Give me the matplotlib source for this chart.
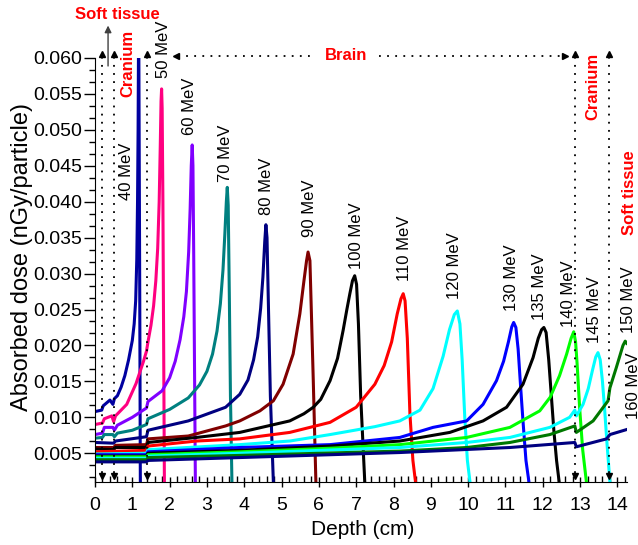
import matplotlib
matplotlib.use('Agg')
import matplotlib.pyplot as plt
from matplotlib.ticker import MultipleLocator, AutoMinorLocator

plt.rcParams['font.family'] = ['Liberation Sans', 'DejaVu Sans']

# depth (cm) / dose (nGy/particle), one curve per energy
depth_40 = [0, 0.18, 0.22, 0.4, 0.48, 0.52, 0.6, 0.7, 0.8, 0.9, 1.0, 1.05, 1.09, 1.12, 1.14, 1.155, 1.165,
            1.175, 1.2, 1.215]
dose_40 = [0.0108, 0.0110, 0.0116, 0.0124, 0.0118, 0.0126, 0.0130, 0.0142, 0.0158, 0.0180, 0.0207, 0.0230,
           0.0262, 0.0320, 0.0400, 0.0500, 0.0605, 0.0605, 0.0260, 0.0010]
depth_50 = [0, 0.2, 0.25, 0.45, 0.5, 0.55, 0.85, 1.1, 1.3, 1.38, 1.42, 1.5, 1.57, 1.63, 1.68, 1.72, 1.75,
            1.77, 1.785, 1.8, 1.82, 1.84, 1.86]
dose_50 = [0.0090, 0.0092, 0.0098, 0.0102, 0.0094, 0.0102, 0.0118, 0.0147, 0.0178, 0.0192, 0.0205, 0.0228,
           0.0255, 0.0290, 0.0335, 0.0400, 0.0480, 0.0540, 0.0557, 0.0530, 0.0400, 0.0200, 0.0010]
depth_60 = [0, 0.2, 0.25, 0.48, 0.52, 0.6, 1.0, 1.38, 1.42, 1.8, 2.0, 2.15, 2.28, 2.38, 2.45, 2.51, 2.55,
            2.58, 2.605, 2.625, 2.645, 2.67, 2.69]
dose_60 = [0.0076, 0.0078, 0.0086, 0.0086, 0.0082, 0.0089, 0.0100, 0.0113, 0.0122, 0.0137, 0.0155, 0.0178,
           0.0208, 0.0240, 0.0275, 0.0330, 0.0390, 0.0450, 0.0479, 0.0450, 0.0330, 0.0150, 0.0010]
depth_70 = [0, 0.2, 0.25, 0.48, 0.52, 0.6, 1.0, 1.38, 1.42, 2.0, 2.5, 2.8, 3.0, 3.15, 3.27, 3.36, 3.43, 3.48,
            3.52, 3.545, 3.57, 3.6, 3.63, 3.67]
dose_70 = [0.0071, 0.0072, 0.0076, 0.0076, 0.0073, 0.0078, 0.0082, 0.0090, 0.0098, 0.0111, 0.0127, 0.0145,
           0.0164, 0.0188, 0.0220, 0.0258, 0.0305, 0.0355, 0.0400, 0.0420, 0.0395, 0.0270, 0.0130, 0.0010]
depth_80 = [0, 0.5, 0.55, 1.38, 1.42, 2.5, 3.5, 3.88, 4.1, 4.25, 4.36, 4.44, 4.5, 4.55, 4.58, 4.61, 4.65,
            4.7, 4.78]
dose_80 = [0.0065, 0.0064, 0.0067, 0.0073, 0.0082, 0.0095, 0.0114, 0.0132, 0.0152, 0.0180, 0.0212, 0.0252,
           0.0295, 0.0345, 0.0368, 0.0350, 0.0250, 0.0130, 0.0010]
depth_90 = [0, 0.5, 0.55, 1.38, 1.42, 2.5, 3.5, 3.88, 4.42, 4.78, 5.04, 5.31, 5.49, 5.6, 5.67, 5.71, 5.76,
            5.8, 5.85, 5.92]
dose_90 = [0.0058, 0.0058, 0.0061, 0.0062, 0.0070, 0.0074, 0.0088, 0.0095, 0.0109, 0.0123, 0.0146, 0.0188,
           0.0244, 0.0290, 0.0318, 0.0330, 0.0318, 0.0244, 0.0151, 0.0010]
depth_100 = [0, 0.5, 0.55, 1.38, 1.42, 2.72, 3.88, 5.22, 5.6, 5.85, 6.05, 6.3, 6.5, 6.65, 6.75, 6.83, 6.9,
             6.96, 7.01, 7.06, 7.12, 7.23]
dose_100 = [0.0056, 0.0055, 0.0058, 0.0058, 0.0065, 0.0072, 0.0079, 0.0095, 0.0105, 0.0114, 0.0125, 0.0151,
            0.0182, 0.0221, 0.0250, 0.0272, 0.0290, 0.0297, 0.0285, 0.0230, 0.0130, 0.0010]
depth_110 = [0, 1.38, 1.42, 2.72, 3.88, 5.22, 6.3, 7.0, 7.5, 7.75, 7.95, 8.1, 8.2, 8.26, 8.31, 8.37, 8.44,
             8.52, 8.59]
dose_110 = [0.0052, 0.0054, 0.0060, 0.0067, 0.0070, 0.0079, 0.0093, 0.0114, 0.0146, 0.0172, 0.0205, 0.0244,
            0.0265, 0.0272, 0.0262, 0.0210, 0.0105, 0.0040, 0.0010]
depth_120 = [0, 1.38, 1.42, 3.88, 5.22, 6.3, 7.5, 8.17, 8.71, 9.06, 9.33, 9.5, 9.63, 9.71, 9.78, 9.84, 9.91,
             9.98, 10.05]
dose_120 = [0.0049, 0.0050, 0.0055, 0.0062, 0.0067, 0.0076, 0.0087, 0.0095, 0.0110, 0.0140, 0.0185, 0.0222,
            0.0243, 0.0248, 0.0230, 0.0180, 0.0100, 0.0040, 0.0010]
depth_130 = [0, 1.38, 1.42, 3.88, 6.3, 8.17, 9.06, 9.96, 10.4, 10.76, 10.95, 11.08, 11.17, 11.22, 11.28,
             11.34, 11.41, 11.47, 11.55, 11.63]
dose_130 = [0.0048, 0.0048, 0.0052, 0.0058, 0.0062, 0.0072, 0.0086, 0.0095, 0.0118, 0.0151, 0.0178, 0.0205,
            0.0226, 0.0232, 0.0225, 0.0195, 0.0140, 0.0095, 0.0040, 0.0010]
depth_135 = [0, 1.38, 1.42, 3.88, 6.3, 8.17, 9.51, 10.4, 11.03, 11.47, 11.74, 11.88, 11.97, 12.03, 12.09,
             12.16, 12.23, 12.3, 12.37, 12.44]
dose_135 = [0.0046, 0.0046, 0.0050, 0.0054, 0.0060, 0.0067, 0.0079, 0.0095, 0.0114, 0.0146, 0.0183, 0.0210,
            0.0222, 0.0225, 0.0218, 0.0180, 0.0130, 0.0080, 0.0040, 0.0010]
depth_140 = [0, 1.38, 1.42, 3.88, 6.3, 8.17, 9.96, 11.12, 11.92, 12.2, 12.45, 12.64, 12.76, 12.83, 12.88,
             12.92, 12.99, 13.07, 13.17]
dose_140 = [0.0045, 0.0045, 0.0048, 0.0052, 0.0057, 0.0062, 0.0072, 0.0086, 0.0109, 0.0128, 0.0158, 0.0188,
            0.0210, 0.0219, 0.0205, 0.0175, 0.0112, 0.0055, 0.0010]
depth_145 = [0, 1.38, 1.42, 3.88, 8.17, 9.96, 11.12, 12.19, 12.72, 12.86, 12.9, 13.08, 13.22, 13.33, 13.42,
             13.48, 13.54, 13.6, 13.66, 13.72, 13.8]
dose_145 = [0.0043, 0.0043, 0.0046, 0.0050, 0.0058, 0.0065, 0.0072, 0.0086, 0.0100, 0.0110, 0.0102, 0.0118,
            0.0140, 0.0165, 0.0184, 0.0190, 0.0180, 0.0150, 0.0110, 0.0065, 0.0010]
depth_150 = [0, 1.38, 1.42, 3.88, 8.17, 9.96, 11.12, 12.19, 12.86, 12.9, 13.35, 13.75, 13.8, 13.97, 14.08,
             14.15, 14.21, 14.25]
dose_150 = [0.0041, 0.0041, 0.0044, 0.0047, 0.0053, 0.0058, 0.0065, 0.0076, 0.0088, 0.0079, 0.0095, 0.0123,
            0.0141, 0.0169, 0.0188, 0.0200, 0.0206, 0.0203]
depth_160 = [0, 1.38, 1.42, 3.88, 8.17, 11.12, 12.86, 12.9, 13.71, 13.8, 14.25]
dose_160 = [0.0038, 0.0038, 0.0040, 0.0044, 0.0051, 0.0058, 0.0065, 0.0059, 0.0070, 0.0076, 0.0083]

energies = [40, 50, 60, 70, 80, 90, 100, 110, 120, 130, 135, 140, 145, 150, 160]
depths = [depth_40, depth_50, depth_60, depth_70, depth_80, depth_90, depth_100, depth_110, depth_120,
          depth_130, depth_135, depth_140, depth_145, depth_150, depth_160]
doses = [dose_40, dose_50, dose_60, dose_70, dose_80, dose_90, dose_100, dose_110, dose_120,
         dose_130, dose_135, dose_140, dose_145, dose_150, dose_160]
colors = ['#0000A0', '#FF0080', '#8000FF', '#008080', '#000080', '#800000', '#000000', '#FF0000',
          '#00FFFF', '#0000FF', '#000000', '#00FF00', '#00FFFF', '#007800', '#000080']

# where the "xx MeV" labels sit (x, bottom of text)
label_x = [0.85, 1.83, 2.53, 3.51, 4.60, 5.76, 7.01, 8.30, 9.64, 11.16, 11.92, 12.68, 13.39, 14.31, 14.42]
label_y = [0.0402, 0.0572, 0.0493, 0.0427, 0.0381, 0.0351, 0.0307, 0.0290, 0.0265, 0.0248, 0.0235,
           0.0226, 0.0204, 0.0218, 0.0097]

# tissue boundaries (cm)
left_bounds = [0.2, 0.5, 1.4]
right_bounds = [12.87, 13.77]

dot = (0, (1, 3.5))


def boundary(ax, x):
    ax.plot([x, x], [0.0022, 0.0602], color='k', lw=1.3, ls=dot, clip_on=False)
    ax.plot([x], [0.0605], marker='^', ms=5, color='k', clip_on=False)
    ax.plot([x], [0.0019], marker='v', ms=5, color='k', clip_on=False)


def main():
    fig = plt.figure(figsize=(6.38, 5.45), dpi=100)
    ax = fig.add_axes([0.1489, 0.1156, 0.8334, 0.7780])

    for d, y, c in zip(depths, doses, colors):
        ax.plot(d, y, color=c, lw=2.2, solid_joinstyle='round')

    for e, lx, ly in zip(energies, label_x, label_y):
        ax.text(lx, ly, '%d MeV' % e, rotation=90, ha='center', va='bottom', fontsize=12, clip_on=False)

    for x in left_bounds + right_bounds:
        boundary(ax, x)

    # brain arrow
    ax.plot([2.22, 5.85], [0.0603, 0.0603], color='k', lw=1.3, ls=dot, clip_on=False)
    ax.plot([7.62, 12.55], [0.0603, 0.0603], color='k', lw=1.3, ls=dot, clip_on=False)
    ax.plot([2.18], [0.0603], marker='<', ms=5, color='k', clip_on=False)
    ax.plot([12.6], [0.0603], marker='>', ms=5, color='k', clip_on=False)

    red = dict(color='red', fontweight='bold', fontsize=12)
    ax.text(6.72, 0.0603, 'Brain', ha='center', va='center', **red)
    ax.text(0.59, 0.0660, 'Soft tissue', ha='center', va='center', **red)
    ax.text(0.89, 0.0592, 'Cranium', rotation=90, ha='center', va='center', **red)
    ax.text(13.34, 0.0560, 'Cranium', rotation=90, ha='center', va='center', **red)
    ax.text(14.33, 0.0413, 'Soft tissue', rotation=90, ha='center', va='center', **red)
    ax.annotate('', xy=(0.35, 0.0649), xytext=(0.35, 0.0585), annotation_clip=False,
                arrowprops=dict(arrowstyle='-|>', color='0.25', lw=1, mutation_scale=10))

    ax.set_xlim(0, 14.25)
    ax.set_ylim(0.001, 0.060)
    ax.xaxis.set_major_locator(MultipleLocator(1))
    ax.xaxis.set_minor_locator(MultipleLocator(0.2))
    ax.yaxis.set_major_locator(MultipleLocator(0.005))
    ax.yaxis.set_minor_locator(AutoMinorLocator(3))
    ax.yaxis.set_major_formatter(plt.FormatStrFormatter('%.3f'))

    ax.spines['top'].set_visible(False)
    ax.spines['right'].set_visible(False)
    ax.tick_params(axis='x', which='major', direction='inout', length=7, width=1, labelsize=14, pad=7)
    ax.tick_params(axis='x', which='minor', direction='in', length=4, width=1)
    ax.tick_params(axis='y', which='major', direction='out', length=8, width=1, labelsize=14, pad=1)
    ax.tick_params(axis='y', which='minor', direction='out', length=4, width=1)

    ax.set_xlabel('Depth (cm)', fontsize=15)
    ax.set_ylabel('Absorbed dose (nGy/particle)', fontsize=17)
    ax.xaxis.set_label_coords(0.503, -0.09)
    ax.yaxis.set_label_coords(-0.117, 0.53)

    fig.savefig('out.png', dpi=100)


if __name__ == '__main__':
    main()
